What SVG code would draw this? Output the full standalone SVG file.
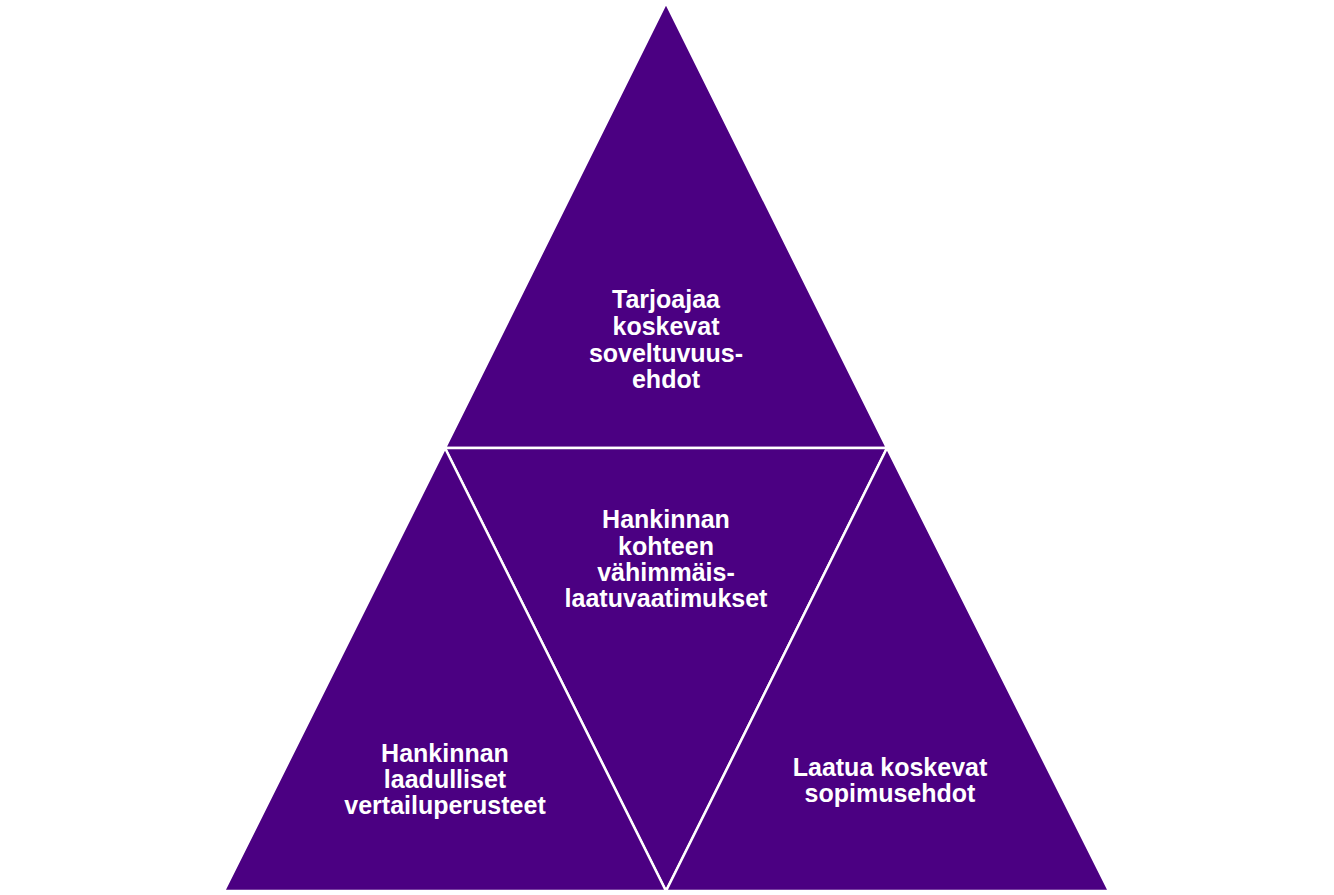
<svg xmlns="http://www.w3.org/2000/svg" width="1334" height="895" viewBox="0 0 1334 895">
<style>
.tri{fill:#4B0082;stroke:#FFFFFF;stroke-width:2.5;stroke-linejoin:miter}
.lbl{font-family:"Liberation Sans",Arial,sans-serif;font-weight:bold;font-size:25px;fill:#FFFFFF;text-anchor:middle}
</style>
<rect width="1334" height="895" fill="#FFFFFF"/>
<g id="top">
<polygon class="tri" points="666,3 887,448 445,448"/>
<text class="lbl" x="666" y="308">Tarjoajaa</text>
<text class="lbl" x="666" y="335">koskevat</text>
<text class="lbl" x="666" y="362">soveltuvuus-</text>
<text class="lbl" x="666" y="388">ehdot</text>
</g>
<g id="middle">
<polygon class="tri" points="445,448 887,448 666,891"/>
<text class="lbl" x="666" y="528">Hankinnan</text>
<text class="lbl" x="666" y="555">kohteen</text>
<text class="lbl" x="666" y="581">vähimmäis-</text>
<text class="lbl" x="666" y="607">laatuvaatimukset</text>
</g>
<g id="left">
<polygon class="tri" points="445,448 666,891 224,891"/>
<text class="lbl" x="445" y="762">Hankinnan</text>
<text class="lbl" x="445" y="788">laadulliset</text>
<text class="lbl" x="445" y="814">vertailuperusteet</text>
</g>
<g id="right">
<polygon class="tri" points="887,448 1109,891 666,891"/>
<text class="lbl" x="890" y="776">Laatua koskevat</text>
<text class="lbl" x="890" y="802">sopimusehdot</text>
</g>
<g id="connectors"></g>
</svg>
